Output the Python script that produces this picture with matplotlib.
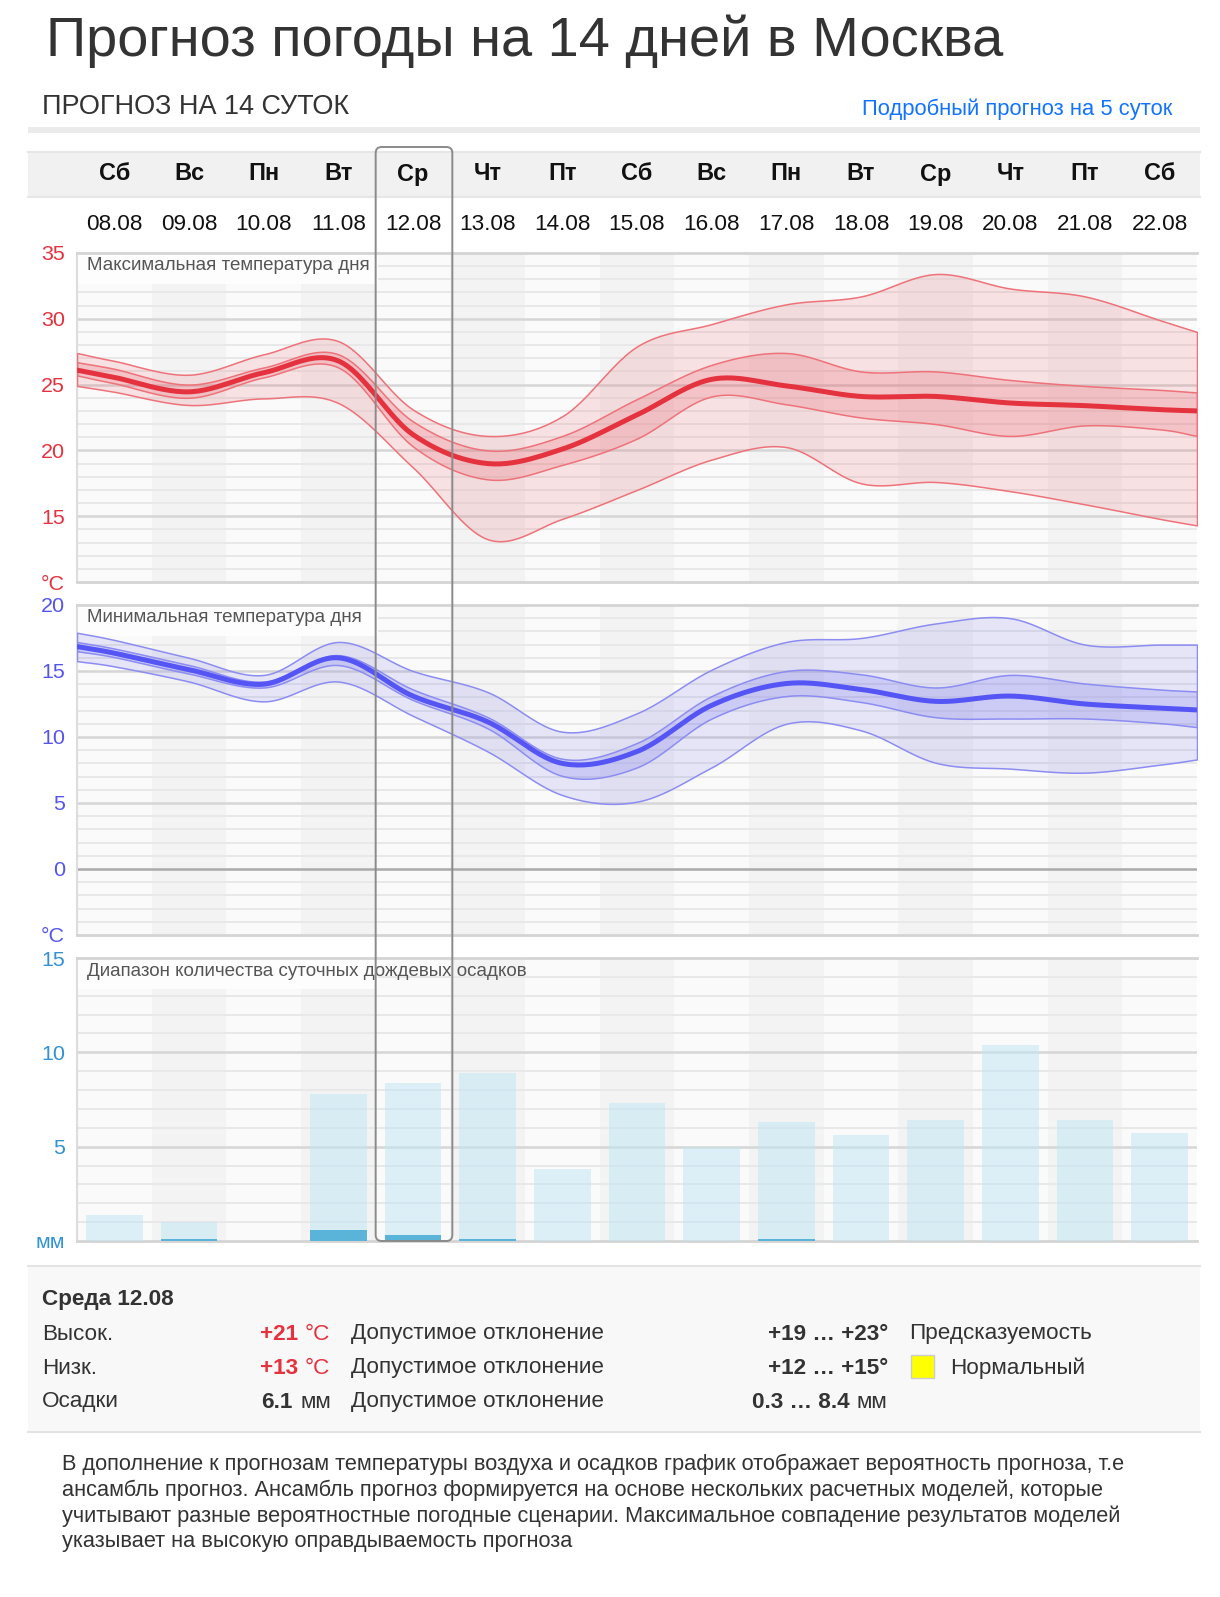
import numpy as np
import matplotlib
matplotlib.use('Agg')
import matplotlib.pyplot as plt
from matplotlib.patches import Rectangle, FancyBboxPatch

plt.rcParams['font.family'] = ['Liberation Sans', 'DejaVu Sans']

W, H = 1220, 1597

# --- data -------------------------------------------------------------
weekdays = ['Сб', 'Вс', 'Пн', 'Вт', 'Ср', 'Чт', 'Пт', 'Сб', 'Вс', 'Пн', 'Вт', 'Ср', 'Чт', 'Пт', 'Сб']
dates = ['08.08', '09.08', '10.08', '11.08', '12.08', '13.08', '14.08', '15.08',
         '16.08', '17.08', '18.08', '19.08', '20.08', '21.08', '22.08']

# curve nodes: left edge of chart, 15 day centres, right edge
node_x = np.r_[-0.5, np.arange(len(dates)), len(dates) - 0.5]

# max temperature (ensemble spread, quartiles, median)
tmax_hi = [27.4, 26.8, 25.75, 27.3, 28.3, 23.1, 21.1, 22.6, 27.9, 29.6, 31.1, 31.7, 33.4, 32.3, 31.7, 29.9, 29.0]
tmax_q_hi = [26.7, 26.2, 25.0, 26.3, 27.3, 22.2, 20.0, 21.1, 23.9, 26.5, 27.4, 26.0, 26.0, 25.35, 24.9, 24.6, 24.4]
tmax_med = [26.1, 25.55, 24.45, 25.9, 26.8, 21.2, 19.0, 20.1, 22.7, 25.4, 24.9, 24.1, 24.1, 23.6, 23.4, 23.1, 23.0]
tmax_q_lo = [25.7, 25.1, 24.0, 25.55, 26.3, 20.3, 17.8, 18.9, 20.9, 24.1, 23.5, 22.5, 22.0, 21.1, 21.9, 21.6, 21.1]
tmax_lo = [24.9, 24.45, 23.45, 23.95, 23.6, 18.7, 13.25, 14.8, 17.0, 19.3, 20.25, 17.5, 17.6, 16.9, 15.9, 14.8, 14.3]

# min temperature
tmin_hi = [17.9, 17.35, 16.0, 14.7, 17.2, 15.0, 13.4, 10.4, 11.8, 15.1, 17.2, 17.5, 18.6, 19.0, 17.0, 17.0, 17.0]
tmin_q_hi = [17.2, 16.7, 15.45, 14.2, 16.2, 13.6, 11.5, 8.35, 9.55, 13.1, 15.0, 14.75, 13.75, 14.7, 14.05, 13.6, 13.45]
tmin_med = [16.85, 16.35, 15.1, 14.0, 16.0, 13.1, 11.15, 8.0, 8.9, 12.4, 14.05, 13.6, 12.7, 13.1, 12.5, 12.2, 12.05]
tmin_q_lo = [16.5, 16.05, 14.8, 13.75, 15.45, 12.8, 10.65, 7.05, 7.7, 11.4, 13.1, 12.65, 11.5, 11.4, 11.4, 11.05, 10.75]
tmin_lo = [15.75, 15.35, 14.2, 12.7, 14.2, 11.6, 8.9, 5.6, 5.1, 7.7, 11.0, 10.5, 8.05, 7.6, 7.3, 7.9, 8.3]

# daily rain range, mm
precip_max = [1.4, 1.0, 0, 7.8, 8.4, 8.9, 3.8, 7.3, 5.0, 6.3, 5.6, 6.4, 10.4, 6.4, 5.7]
precip_min = [0, 0.1, 0, 0.6, 0.3, 0.1, 0, 0, 0, 0.1, 0, 0, 0, 0, 0]

selected = 4  # Ср 12.08

description = [
    'В дополнение к прогнозам температуры воздуха и осадков график отображает вероятность прогноза, т.е',
    'ансамбль прогноз. Ансамбль прогноз формируется на основе нескольких расчетных моделей, которые',
    'учитывают разные вероятностные погодные сценарии. Максимальное совпадение результатов моделей',
    'указывает на высокую оправдываемость прогноза',
]


def px(size):
    return size * 0.72


def spline(x, y, n=24):
    # catmull-rom through the nodes, just for a smooth look
    x = np.asarray(x, float)
    y = np.asarray(y, float)
    xp = np.r_[2 * x[0] - x[1], x, 2 * x[-1] - x[-2]]
    yp = np.r_[2 * y[0] - y[1], y, 2 * y[-1] - y[-2]]
    t = np.linspace(0, 1, n, endpoint=False)
    def seg(a, b, c, d):
        return 0.5 * (2 * b + (c - a) * t + (2 * a - 5 * b + 4 * c - d) * t ** 2
                      + (3 * b - a - 3 * c + d) * t ** 3)
    xs, ys = [], []
    for i in range(len(x) - 1):
        xs.append(seg(*xp[i:i + 4]))
        ys.append(seg(*yp[i:i + 4]))
    xs.append([x[-1]])
    ys.append([y[-1]])
    return np.concatenate(xs), np.concatenate(ys)


def rect(l, t, r, b):
    return [l / W, 1 - b / H, (r - l) / W, (b - t) / H]


fig = plt.figure(figsize=(W / 100, H / 100), dpi=100)

bg = fig.add_axes([0, 0, 1, 1])
bg.set_xlim(0, W)
bg.set_ylim(H, 0)
bg.axis('off')
bg.set_zorder(0)

# header
bg.text(46, 41, 'Прогноз погоды на 14 дней в Москва', fontsize=px(56), color='#333333', va='center')
bg.text(42, 107, 'ПРОГНОЗ НА 14 СУТОК', fontsize=px(27), color='#333333', va='center')
bg.text(1172, 109, 'Подробный прогноз на 5 суток', fontsize=px(22), color='#1173ff', va='center', ha='right')
bg.add_patch(Rectangle((28, 127), 1172, 6, color='#ebebeb', lw=0))
bg.add_patch(Rectangle((28, 152), 1172, 46, color='#f1f1f1', lw=0))
bg.plot([28, 1200], [152, 152], color='#e6e6e6', lw=1.5)
bg.plot([28, 1200], [197, 197], color='#e6e6e6', lw=1.5)

x0, x1 = 77, 1197
colw = (x1 - x0) / len(dates)
for i, (d, dt) in enumerate(zip(weekdays, dates)):
    cx = x0 + (i + 0.5) * colw
    bg.text(cx, 174, d, fontsize=px(23.5), fontweight='bold', color='#111111', ha='center', va='center')
    bg.text(cx, 225, dt, fontsize=px(22.5), color='#111111', ha='center', va='center')

# info block
bg.add_patch(Rectangle((28, 1266), 1172, 166, color='#f8f8f8', lw=0))
bg.plot([28, 1200], [1266, 1266], color='#e4e4e4', lw=1.5)
bg.plot([28, 1200], [1432, 1432], color='#e4e4e4', lw=1.5)
fs = px(22.5)
dark = '#333333'
red = '#e5323f'
bg.text(42, 1300, 'Среда 12.08', fontsize=fs, fontweight='bold', color=dark, va='center')
rows = [
    ('Высок.', '+21', '°C', red, '+19 … +23°', '', 298),
    ('Низк.', '+13', '°C', red, '+12 … +15°', '', 298),
    ('Осадки', '6.1', 'мм', dark, '0.3 … 8.4', 'мм', 293),
]
for k, (lab, val, unit, col, rng, runit, vx) in enumerate(rows):
    y = 1334 + 34 * k
    bg.text(42, y, lab, fontsize=fs, color=dark, va='center')
    bg.text(vx, y, val, fontsize=fs, fontweight='bold', color=col, va='center', ha='right')
    bg.text(vx + 7, y, unit, fontsize=fs, color=col, va='center')
    bg.text(351, y, 'Допустимое отклонение', fontsize=fs, color=dark, va='center')
    if runit:
        bg.text(850, y, rng, fontsize=fs, fontweight='bold', color=dark, va='center', ha='right')
        bg.text(857, y, runit, fontsize=fs, color=dark, va='center')
    else:
        bg.text(888, y, rng, fontsize=fs, fontweight='bold', color=dark, va='center', ha='right')
bg.text(909, 1334, 'Предсказуемость', fontsize=fs, color=dark, va='center')
bg.add_patch(Rectangle((911, 1355), 23, 23, facecolor='#ffff00', edgecolor='#cccccc', lw=1))
bg.text(950, 1368, 'Нормальный', fontsize=fs, color=dark, va='center')

for k, line in enumerate(description):
    bg.text(62, 1464 + 26 * k, line, fontsize=px(21.8), color=dark, va='center')


def panel(top, bottom, lo, hi, step_major, label, tick_color, tick_labels, zero=False):
    ax = fig.add_axes(rect(x0, top, x1, bottom))
    ax.set_zorder(1)
    ax.set_facecolor('#fafafa')
    ax.set_xlim(-0.5, len(dates) - 0.5)
    ax.set_ylim(lo, hi)
    for i in range(len(dates)):
        if i % 2 == 1:
            ax.axvspan(i - 0.5, i + 0.5, color='#f3f3f3', lw=0, zorder=0)
    for v in range(lo + 1, hi):
        if zero and v == 0:
            ax.axhline(v, color='#aaaaaa', lw=1.8, zorder=1)
        elif v % step_major == 0:
            ax.axhline(v, color='#d6d6d6', lw=1.8, zorder=1)
        else:
            ax.axhline(v, color='#e8e8e8', lw=1.4, zorder=1)
    ax.add_patch(Rectangle((0, 1 - 31 / (bottom - top)), (378 - x0) / (x1 - x0), 31 / (bottom - top),
                           transform=ax.transAxes, color='#fdfdfd', lw=0, zorder=1.5))
    ax.text(10 / (x1 - x0), 1 - 13 / (bottom - top), label, transform=ax.transAxes,
            fontsize=px(18.8), color='#555555', va='center', zorder=6)
    ax.spines['right'].set_visible(False)
    for s in ['top', 'bottom']:
        ax.spines[s].set_color('#d4d4d4')
        ax.spines[s].set_linewidth(2)
    ax.spines['left'].set_color('#dddddd')
    ax.spines['left'].set_linewidth(1.5)
    ax.set_xticks([])
    ax.set_yticks(range(lo, hi + 1, 5))
    ax.set_yticklabels(tick_labels)
    ax.tick_params(axis='y', left=False, pad=px(7), labelsize=px(21.5), labelcolor=tick_color)
    return ax


def bands(ax, hi, qhi, med, qlo, lo, edge, fill_out, fill_in, line):
    xs, yh = spline(node_x, hi)
    _, yqh = spline(node_x, qhi)
    _, ym = spline(node_x, med)
    _, yql = spline(node_x, qlo)
    _, yl = spline(node_x, lo)
    ax.fill_between(xs, yl, yh, facecolor=fill_out, edgecolor=edge, lw=1.1, zorder=3)
    ax.fill_between(xs, yql, yqh, facecolor=fill_in, edgecolor=edge, lw=1.1, zorder=3)
    ax.plot(xs, ym, color=line, lw=3.6, zorder=4, solid_capstyle='butt')


ax1 = panel(253, 582, 10, 35, 5, 'Максимальная температура дня', '#e5323f',
            ['°C', '15', '20', '25', '30', '35'])
bands(ax1, tmax_hi, tmax_q_hi, tmax_med, tmax_q_lo, tmax_lo,
      '#ee727a', (0.91, 0.25, 0.30, 0.13), (0.91, 0.25, 0.30, 0.18), '#e5323f')

ax2 = panel(605, 935, -5, 20, 5, 'Минимальная температура дня', '#5555ee',
            ['°C', '0', '5', '10', '15', '20'], zero=True)
bands(ax2, tmin_hi, tmin_q_hi, tmin_med, tmin_q_lo, tmin_lo,
      '#8c8cf2', (0.40, 0.40, 0.92, 0.14), (0.40, 0.40, 0.95, 0.20), '#5555f5')

ax3 = panel(958, 1241, 0, 15, 5, 'Диапазон количества суточных дождевых осадков', '#3192d6',
            ['мм', '5', '10', '15'])
xb = np.arange(len(dates))
ax3.bar(xb, precip_max, width=0.76, color='#bfe6f6', alpha=0.5, lw=0, zorder=3)
ax3.bar(xb, precip_min, width=0.76, color='#5ab4da', lw=0, zorder=4)

# selected day frame
fg = fig.add_axes([0, 0, 1, 1])
fg.set_xlim(0, W)
fg.set_ylim(H, 0)
fg.axis('off')
fg.set_zorder(5)
fg.patch.set_visible(False)
sx = x0 + selected * colw
fg.add_patch(FancyBboxPatch((sx, 147), colw + 2, 1241 - 147,
                            boxstyle='round,pad=0,rounding_size=6',
                            facecolor='none', edgecolor='#8a8a8a', lw=1.4))

fig.savefig('out.png', dpi=100)
